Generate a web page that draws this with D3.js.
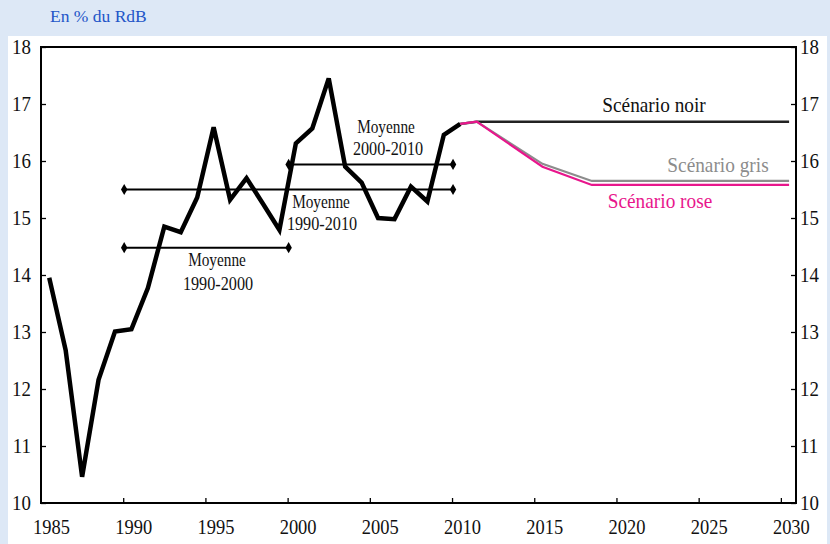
<!DOCTYPE html>
<html><head><meta charset="utf-8">
<script src="https://cdn.jsdelivr.net/npm/d3@7"></script>
<style>body{margin:0;background:#dde8f6;}svg{display:block;}</style>
</head><body>
<svg id="c" width="830" height="544"></svg>
<script>
// ---- data ----
const histYears = [1985,1986,1987,1988,1989,1990,1991,1992,1993,1994,1995,1996,1997,1998,1999,2000,2001,2002,2003,2004,2005,2006,2007,2008,2009,2010];
const histValues = [13.95,12.68,10.46,12.16,13.01,13.05,13.77,14.85,14.75,15.36,16.59,15.32,15.70,15.25,14.79,16.31,16.57,17.45,15.90,15.62,15.00,14.98,15.55,15.29,16.46,16.65];
const noirYears = [2010,2011,2030];
const noirValues = [16.65,16.69,16.69];
const grisYears = [2010,2011,2015,2018,2030];
const grisValues = [16.65,16.69,15.95,15.65,15.65];
const roseYears = [2010,2011,2015,2018,2030];
const roseValues = [16.65,16.69,15.90,15.58,15.58];
const avgNames = ["1990-2000","1990-2010","2000-2010"];
const avgStart = [1990,1990,2000];
const avgEnd = [2000,2010,2010];
const avgValues = [14.48,15.50,15.94];
const xTicks = [1985,1990,1995,2000,2005,2010,2015,2020,2025,2030];
const yTicks = [10,11,12,13,14,15,16,17,18];
const title = "En % du RdB";

// ---- drawing ----
const svg = d3.select("#c");
const serif = "'Liberation Serif','Times New Roman',serif";
svg.append("rect").attr("x",0).attr("y",0).attr("width",830).attr("height",544).attr("fill","#dde8f6");
svg.append("rect").attr("x",8).attr("y",36).attr("width",819).attr("height",508).attr("fill","#fff");

const L=41,R=796,T=47,B=503;
const x = d3.scaleLinear().domain([1985,2030.92]).range([L,R]);
const y = d3.scaleLinear().domain([10,18]).range([B,T]);
const xm = yr => x(yr+0.5);

function txt(px,py,s,opt){
  opt=opt||{};
  svg.append("text").attr("transform",`translate(${px},${py}) scale(${opt.sx||1},1)`)
    .attr("text-anchor",opt.anchor||"middle")
    .attr("font-family",serif).attr("font-size",opt.size||18)
    .attr("fill",opt.fill||"#111").text(s);
}

// title
svg.append("text").attr("x",50).attr("y",22).attr("font-family",serif).attr("font-size",17.5)
  .attr("fill","#2456c8").text(title);

// frame
svg.append("rect").attr("x",L).attr("y",T).attr("width",R-L).attr("height",B-T)
  .attr("fill","none").attr("stroke","#000").attr("stroke-width",2);

// axes ticks
const gl = svg.append("g").attr("transform",`translate(${L},0)`)
  .call(d3.axisRight(y).tickValues(yTicks).tickSize(5).tickFormat(""));
const gr = svg.append("g").attr("transform",`translate(${R},0)`)
  .call(d3.axisLeft(y).tickValues(yTicks).tickSize(5).tickFormat(""));
const gb = svg.append("g").attr("transform",`translate(0,${B})`)
  .call(d3.axisTop(x).tickValues(xTicks.slice(1)).tickSize(5).tickFormat(""));
[gl,gr,gb].forEach(g=>{g.select(".domain").remove();g.selectAll("line").attr("stroke","#000").attr("stroke-width",1.3);});

yTicks.forEach(v=>{
  txt(31,y(v)+7,String(v),{anchor:"end",size:21,sx:0.9});
  txt(800,y(v)+7,String(v),{anchor:"start",size:21,sx:0.9});
});
xTicks.forEach(v=>{
  txt(x(v)+10.5,534,String(v),{size:21,sx:0.88});
});

// average lines
const diamond = d3.symbol().type(d3.symbolDiamond).size(36);
avgValues.forEach((v,i)=>{
  svg.append("line").attr("x1",x(avgStart[i])+1).attr("x2",x(avgEnd[i])+1)
    .attr("y1",y(v)).attr("y2",y(v)).attr("stroke","#000").attr("stroke-width",2);
  [avgStart[i],avgEnd[i]].forEach(yr=>{
    svg.append("path").attr("d",diamond).attr("transform",`translate(${x(yr)+1},${y(v)})`).attr("fill","#000");
  });
});

// historical line
const line = d3.line().x(d=>xm(d[0])).y(d=>y(d[1]));
svg.append("path").datum(d3.zip(histYears,histValues)).attr("d",line)
  .attr("fill","none").attr("stroke","#000").attr("stroke-width",4.5).attr("stroke-linejoin","miter").attr("stroke-miterlimit",3);

// scenarios
svg.append("path").datum(d3.zip(noirYears,noirValues)).attr("d",line)
  .attr("fill","none").attr("stroke","#222").attr("stroke-width",2.5);
svg.append("path").datum(d3.zip(grisYears,grisValues)).attr("d",line)
  .attr("fill","none").attr("stroke","#8c8c8c").attr("stroke-width",2.2);
svg.append("path").datum(d3.zip(roseYears,roseValues)).attr("d",line)
  .attr("fill","none").attr("stroke","#e8168c").attr("stroke-width",2.2);

// labels
txt(654,112,"Scénario noir",{size:21,sx:0.92,fill:"#111"});
txt(718,172,"Scénario gris",{size:21,sx:0.92,fill:"#8c8c8c"});
txt(660,208,"Scénario rose",{size:21,sx:0.92,fill:"#e8168c"});

txt(217,266,"Moyenne",{size:18,sx:0.85});
txt(218,290,"1990-2000",{size:18,sx:0.9});
txt(321,208,"Moyenne",{size:18,sx:0.85});
txt(322,230,"1990-2010",{size:18,sx:0.9});
txt(386,133,"Moyenne",{size:18,sx:0.85});
txt(388,155,"2000-2010",{size:18,sx:0.9});
</script>
</body></html>
